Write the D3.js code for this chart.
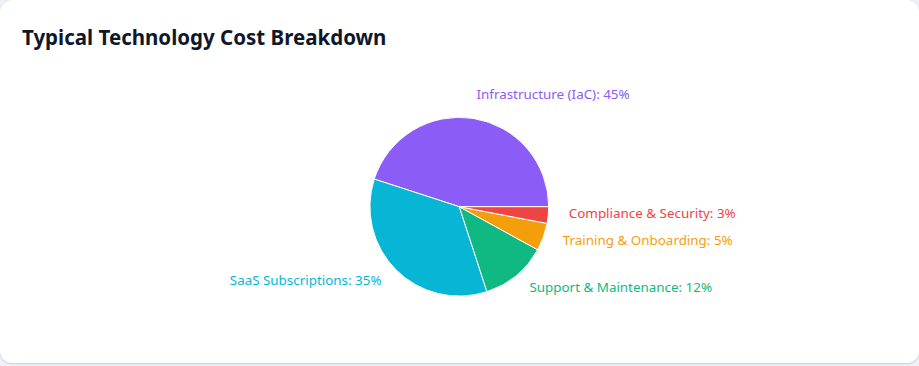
<!DOCTYPE html>
<html>
<head>
<meta charset="utf-8">
<script src="https://cdn.jsdelivr.net/npm/d3@7"></script>
<style>
  html, body { margin: 0; padding: 0; background: #eef2f7; }
  .card {
    position: absolute; left: 0; top: 0; width: 919px; height: 363px;
    background: #fff; border-radius: 12px;
    box-shadow: 0 1px 2px rgba(15,23,42,0.12), 0 0 0 1px rgba(226,232,240,0.9);
    overflow: hidden;
  }
  svg { position: absolute; left: 0; top: 0; }
  .title { font-family: "Noto Sans", sans-serif; font-weight: 700; font-size: 20.5px; fill: #0f172a; }
  .lbl { font-family: "Noto Sans", sans-serif; font-size: 13.4px; }
</style>
</head>
<body>
<div class="card"><svg id="chart" width="919" height="366"></svg></div>
<script>
const categories = ["Infrastructure (IaC)", "SaaS Subscriptions", "Support & Maintenance", "Training & Onboarding", "Compliance & Security"];
const values = [45, 35, 12, 5, 3];
const colors = ["#8b5cf6", "#06b6d4", "#10b981", "#f59e0b", "#ef4444"];
const titleText = "Typical Technology Cost Breakdown";

const svg = d3.select("#chart");
svg.append("text").attr("class", "title").attr("x", 22).attr("y", 45).text(titleText);

const cx = 459.3, cy = 206.7, radius = 89.4, labelRadius = 110;
const data = categories.map((c, i) => ({ name: c, value: values[i], color: colors[i] }));

const pie = d3.pie().value(d => d.value).sort(null)
  .startAngle(Math.PI / 2).endAngle(Math.PI / 2 - 2 * Math.PI);
const arcs = pie(data);
const arc = d3.arc().innerRadius(0).outerRadius(radius);

const g = svg.append("g").attr("transform", `translate(${cx},${cy})`);
g.selectAll("path").data(arcs).join("path")
  .attr("d", arc)
  .attr("fill", d => d.data.color)
  .attr("stroke", "#fff")
  .attr("stroke-width", 1);

const total = d3.sum(values);
g.selectAll("text").data(arcs).join("text")
  .attr("class", "lbl")
  .each(function(d) {
    const a = (d.startAngle + d.endAngle) / 2;
    const x = labelRadius * Math.sin(a);
    const y = -labelRadius * Math.cos(a);
    d3.select(this)
      .attr("x", x).attr("y", y + 1)
      .attr("text-anchor", x > 0 ? "start" : "end");
  })
  .attr("fill", d => d.data.color)
  .text(d => `${d.data.name}: ${Math.round(d.data.value / total * 100)}%`);
</script>
</body>
</html>
